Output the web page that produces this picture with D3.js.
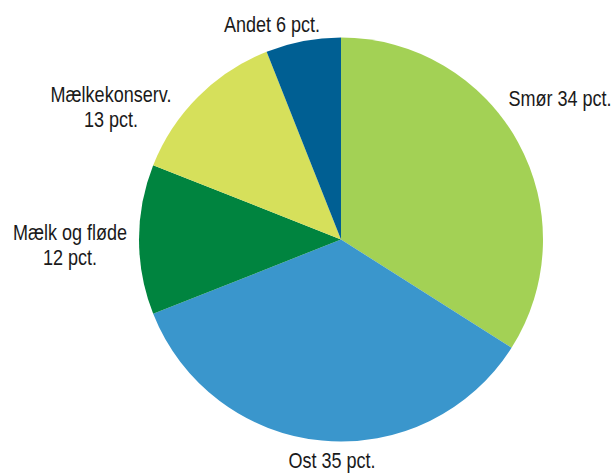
<!DOCTYPE html>
<html>
<head>
<meta charset="utf-8">
<script src="https://cdn.jsdelivr.net/npm/d3@7"></script>
<style>
  body { margin: 0; background: #fff; }
  svg text { font-family: "Liberation Sans", Arial, sans-serif; font-size: 22px; fill: #1a1a1a; }
</style>
</head>
<body>
<svg id="chart" width="613" height="476"></svg>
<script>
// Data
let categories = ['Smør', 'Ost', 'Mælk og fløde', 'Mælkekonserv.', 'Andet'];
let shares = [34, 35, 12, 13, 6];
let labelLines = [
    ['Smør 34 pct.'],
    ['Ost 35 pct.'],
    ['Mælk og fløde', '12 pct.'],
    ['Mælkekonserv.', '13 pct.'],
    ['Andet 6 pct.']
];

let colors = ['#a3d155', '#3a96cc', '#00843f', '#d6e05b', '#005f93'];

// label anchor points (centre x, first baseline y)
let labelPos = [[560, 106], [332, 468], [70, 240], [111, 102], [272, 32]];

let drawPie = () => {
    let cx = 341, cy = 239.5, radius = 202;
    let svg = d3.select('#chart');

    let data = categories.map((c, i) => ({ name: c, value: shares[i], i }));

    let pie = d3.pie()
        .value((d) => d.value)
        .sort(null);

    let arc = d3.arc()
        .innerRadius(0)
        .outerRadius(radius);

    let g = svg.append('g')
        .attr('transform', `translate(${cx},${cy})`);

    g.selectAll('path')
        .data(pie(data))
        .enter()
        .append('path')
        .attr('d', arc)
        .attr('fill', (d) => colors[d.data.i]);

    // Labels (horizontally squeezed to mimic the condensed face)
    let lbl = svg.selectAll('text.lbl')
        .data(data)
        .enter()
        .append('text')
        .attr('class', 'lbl')
        .attr('text-anchor', 'middle')
        .attr('transform', (d) => `translate(${labelPos[d.i][0]},${labelPos[d.i][1]}) scale(0.82,1)`);

    lbl.selectAll('tspan')
        .data((d) => labelLines[d.i])
        .enter()
        .append('tspan')
        .attr('x', 0)
        .attr('y', (d, k) => k * 25)
        .text((d) => d);
};

drawPie();
</script>
</body>
</html>
